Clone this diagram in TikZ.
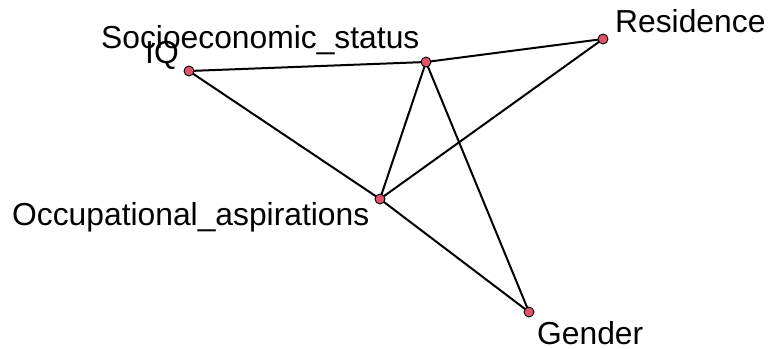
\documentclass[tikz,border=0pt]{standalone}
\usepackage{fontspec}
\setmainfont{Liberation Sans}
\usetikzlibrary{positioning,backgrounds}
\definecolor{dotred}{HTML}{DF536B}
\tikzset{
  vertex/.style={circle, draw=black, fill=dotred, line width=0.9bp,
    inner sep=0pt, minimum size=10bp},
  vlabel/.style={anchor=base west, inner sep=0pt,
    font=\fontsize{31.8bp}{32bp}\selectfont},
  link/.style={line width=2bp, draw=black}
}
\begin{document}
\begin{tikzpicture}[x=1bp, y=-1bp]
  \useasboundingbox (0,0) rectangle (768,348);
  % vertices
  \node[vertex] (iq)  at (189,71)  {};
  \node[vertex] (ses) at (426,62)  {};
  \node[vertex] (res) at (603,39)  {};
  \node[vertex] (occ) at (380,199) {};
  \node[vertex] (gen) at (529,312) {};
  % edges
  \begin{scope}[on background layer]
    \draw[link] (iq.center) -- (ses.center);
    \draw[link] (ses.center) -- (res.center);
    \draw[link] (iq.center) -- (occ.center);
    \draw[link] (ses.center) -- (occ.center);
    \draw[link] (ses.center) -- (gen.center);
    \draw[link] (occ.center) -- (res.center);
    \draw[link] (occ.center) -- (gen.center);
  \end{scope}
  % labels
  \node[vlabel] (seslab) at (101,48)  {Socioeconomic\_status};
  \node[vlabel] (iqlab)  at (145,63)  {IQ};
  \node[vlabel] (reslab) at (615,32)  {Residence};
  \node[vlabel] (occlab) at (12,225)  {Occupational\_aspirations};
  \node[vlabel, text depth=0pt] (genlab) at (537,344) {Gender};
\end{tikzpicture}
\end{document}
